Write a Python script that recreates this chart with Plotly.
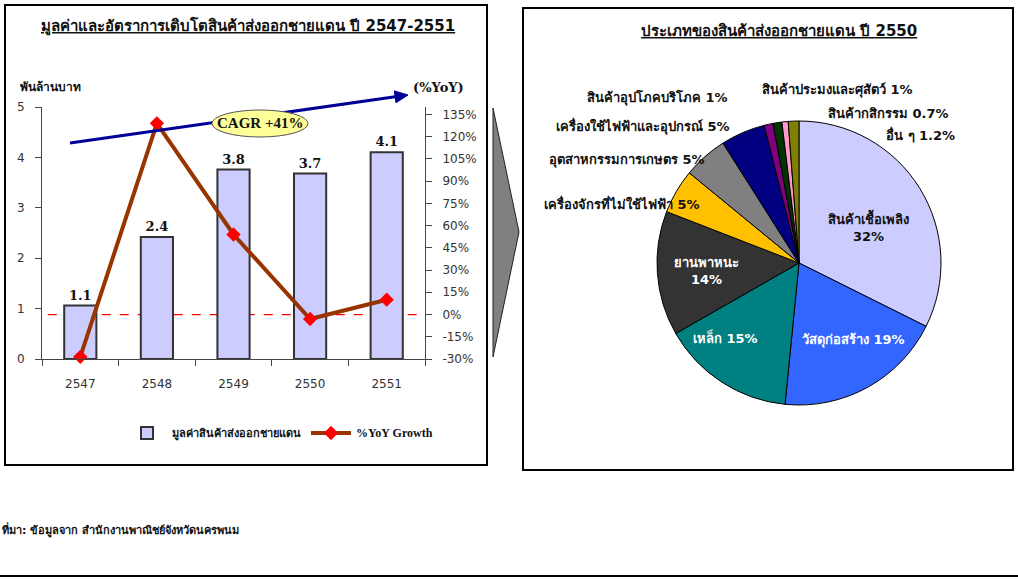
import plotly.graph_objects as go

# ---------------- data ----------------
years = ["2547", "2548", "2549", "2550", "2551"]
export_value = [1.06, 2.42, 3.76, 3.68, 4.1]          # พันล้านบาท
yoy_growth = [-28.5, 129, 54, -3, 10]                 # %YoY
yoy_ticks = [-30, -15, 0, 15, 30, 45, 60, 75, 90, 105, 120, 135]
value_ticks = [0, 1, 2, 3, 4, 5]
cagr_text = "CAGR +41%"

pie_labels = ["สินค้าเชื้อเพลิง", "วัสดุก่อสร้าง", "เหล็ก", "ยานพาหนะ",
              "เครื่องจักรที่ไม่ใช้ไฟฟ้า", "อุตสาหกรรมการเกษตร",
              "เครื่องใช้ไฟฟ้าและอุปกรณ์", "สินค้าอุปโภคบริโภค",
              "สินค้าประมงและศุสัตว์", "สินค้ากสิกรรม", "อื่น ๆ"]
pie_values = [32, 19, 15, 14, 5, 5, 5, 1, 1, 0.7, 1.2]

# ---------------- style ----------------
pie_colors = ["#ccccff", "#3366ff", "#008080", "#333333", "#ffc000", "#808080",
              "#000080", "#800080", "#003300", "#ff99cc", "#808000"]
# label placement (pixel centre), line break flag, text colour
pie_label_pos = [(868, 226), (853, 340), (725, 337), (706, 271), (622, 203),
                 (627, 160), (643, 126), (657, 97), (837, 90), (888, 113), (920, 135)]
pie_label_break = [True, False, False, True, False, False, False, False, False, False, False]
pie_label_color = ["#111", "white", "white", "white", "#111", "#111", "#111",
                   "#111", "#111", "#111", "#111"]

W, H = 1018, 580
THAI = "Tahoma, 'DejaVu Sans', sans-serif"
SERIF = "'DejaVu Serif', 'Liberation Serif', serif"


def px(x):
    return x / W


def py(y):
    return 1 - y / H


fig = go.Figure()

fig.add_trace(go.Bar(
    x=years, y=export_value, name="มูลค่าสินค้าส่งออกชายแดน",
    marker=dict(color="#ccccff", line=dict(color="#333333", width=2)),
    text=[f"{v:.1f}" for v in export_value], textposition="outside",
    textfont=dict(family=SERIF, size=13, color="#111", weight="bold"),
    cliponaxis=False, xaxis="x", yaxis="y",
))

fig.add_trace(go.Scatter(
    x=years, y=yoy_growth,
    name="<span style=\"font-family:'Liberation Serif', serif; font-size:12px\">%YoY Growth</span>",
    mode="lines+markers",
    line=dict(color="#993300", width=4),
    marker=dict(symbol="diamond", size=11, color="#ff0000"),
    xaxis="x", yaxis="y2", cliponaxis=False,
))

fig.add_trace(go.Pie(
    labels=pie_labels, values=pie_values, sort=False, direction="clockwise",
    rotation=0, textinfo="none", showlegend=False,
    marker=dict(colors=pie_colors, line=dict(color="black", width=1)),
    domain=dict(x=[px(657), px(941)], y=[py(405), py(121)]),
))

axis_col = "#444444"
tickfont = dict(family="'DejaVu Sans', sans-serif", size=12, color="#333")
fig.update_layout(
    template="none",
    width=W, height=H, margin=dict(l=0, r=0, t=0, b=0, pad=0, autoexpand=False),
    paper_bgcolor="white", plot_bgcolor="rgba(0,0,0,0)",
    bargap=0.58,
    xaxis=dict(domain=[px(42), px(425)], type="category", showline=True,
               linecolor=axis_col, linewidth=1, ticks="outside", tickson="boundaries",
               ticklen=6, tickcolor=axis_col, showgrid=False, automargin=False,
               tickfont=tickfont, ticklabelstandoff=14, anchor="y"),
    yaxis=dict(domain=[py(359), py(107)], range=[0, 5], tickvals=value_ticks,
               showline=True, linecolor=axis_col, ticks="outside", ticklen=6,
               tickcolor=axis_col, showgrid=False, zeroline=False, automargin=False,
               tickfont=tickfont, ticklabelstandoff=8),
    yaxis2=dict(overlaying="y", side="right", anchor="x", range=[-30, 140],
                tickvals=yoy_ticks, ticktext=[f"{t}%" for t in yoy_ticks],
                showline=True, linecolor=axis_col, ticks="outside", ticklen=6,
                tickcolor=axis_col, showgrid=False, zeroline=False, automargin=False,
                tickfont=tickfont, ticklabelstandoff=8),
    legend=dict(orientation="h", x=px(122), y=py(433), xanchor="left", yanchor="middle",
                font=dict(family=THAI, size=11, color="#111", weight="bold"),
                bgcolor="rgba(0,0,0,0)", itemwidth=40, borderwidth=0),
)

shapes = []
# zero reference line
shapes.append(dict(type="line", xref="x domain", yref="y2", x0=0.015, x1=1.0, y0=0, y1=0,
                   line=dict(color="red", width=1.3, dash="dash"), layer="below"))
# CAGR trend arrow (line + head)
x0a, y0a, x1a, y1a = 70, 143, 408, 95
dx, dy = x1a - x0a, y1a - y0a
L = (dx ** 2 + dy ** 2) ** 0.5
ux, uy = dx / L, dy / L
nx, ny = -uy, ux
hl, hw = 13, 6
bx, by = x1a - hl * ux, y1a - hl * uy
shapes.append(dict(type="line", xref="paper", yref="paper", x0=px(x0a), y0=py(y0a),
                   x1=px(bx), y1=py(by), line=dict(color="#000099", width=3)))
shapes.append(dict(type="path", xref="paper", yref="paper",
                   path=f"M {px(x1a)},{py(y1a)} L {px(bx + hw * nx)},{py(by + hw * ny)} "
                        f"L {px(bx - hw * nx)},{py(by - hw * ny)} Z",
                   fillcolor="#000099", line=dict(color="#000099", width=1)))
# CAGR ellipse
shapes.append(dict(type="circle", xref="paper", yref="paper", x0=px(212), x1=px(308),
                   y0=py(137), y1=py(110), fillcolor="#ffff99",
                   line=dict(color="#555555", width=1)))
# gray chevron between panels
shapes.append(dict(type="path", xref="paper", yref="paper",
                   path=f"M {px(493)},{py(108)} L {px(519)},{py(232)} L {px(493)},{py(357)} Z",
                   fillcolor="#808080", line=dict(color="#222", width=1)))
# panel borders
shapes.append(dict(type="rect", xref="paper", yref="paper", x0=px(5), x1=px(487),
                   y0=py(465), y1=py(5), line=dict(color="black", width=2)))
shapes.append(dict(type="rect", xref="paper", yref="paper", x0=px(523), x1=px(1013),
                   y0=py(470), y1=py(8), line=dict(color="black", width=2)))
# bottom rule
shapes.append(dict(type="line", xref="paper", yref="paper", x0=0, x1=1,
                   y0=py(576), y1=py(576), line=dict(color="black", width=2)))
fig.update_layout(shapes=shapes)


def note(x, y, text, font, xanchor="center"):
    return dict(xref="paper", yref="paper", x=px(x), y=py(y), showarrow=False,
                xanchor=xanchor, yanchor="middle", text=text, font=font)


ann = [
    note(248, 26, "<b><u>มูลค่าและอัตราการเติบโตสินค้าส่งออกชายแดน ปี 2547-2551</u></b>",
         dict(family=THAI, size=15, color="#111")),
    note(779, 31, "<b><u>ประเภทของสินค้าส่งออกชายแดน ปี 2550</u></b>",
         dict(family=THAI, size=15, color="#111")),
    note(18, 87, "<b>พันล้านบาท</b>", dict(family=THAI, size=12, color="#111"), "left"),
    note(438, 87, "<b>(%YoY)</b>", dict(family=SERIF, size=13, color="#111")),
    note(260, 123, f"<b>{cagr_text}</b>",
         dict(family="'Liberation Serif', serif", size=15, color="#111")),
    note(0, 530, "<b>ที่มา: ข้อมูลจาก สำนักงานพาณิชย์จังหวัดนครพนม</b>",
         dict(family=THAI, size=11, color="#111"), "left"),
]

for lab, val, pos, brk, col in zip(pie_labels, pie_values, pie_label_pos,
                                    pie_label_break, pie_label_color):
    sep = "<br>" if brk else " "
    ann.append(note(pos[0], pos[1], f"<b>{lab}{sep}{val:g}%</b>",
                    dict(family=THAI, size=13, color=col)))
fig.update_layout(annotations=ann)

fig.write_html("out.html", config={"displayModeBar": False},
               post_script="document.body.style.margin='0';")
